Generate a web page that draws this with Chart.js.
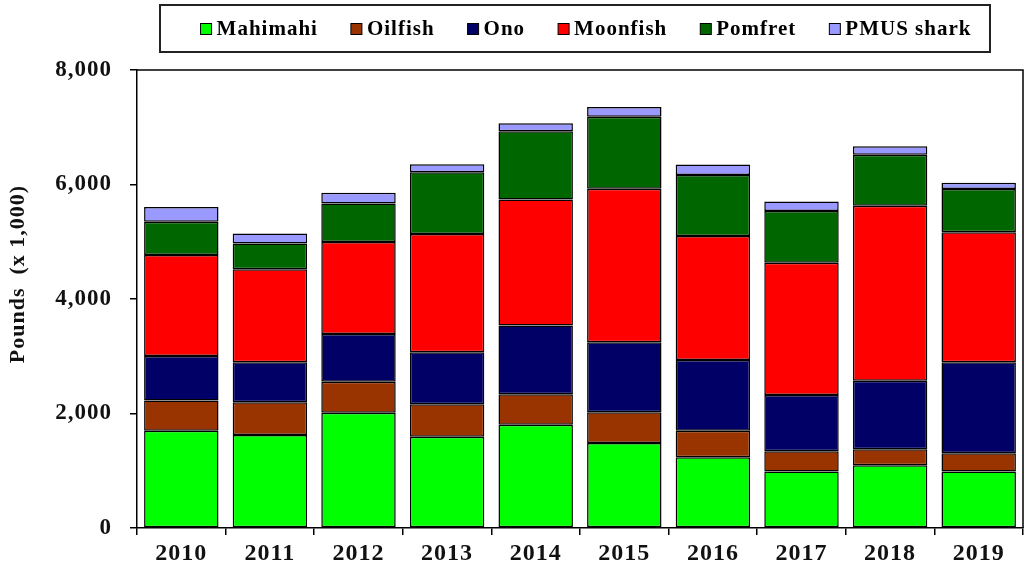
<!DOCTYPE html>
<html>
<head>
<meta charset="utf-8">
<script src="https://cdn.jsdelivr.net/npm/chart.js@4.4.1/dist/chart.umd.min.js"></script>
<style>
  html, body { margin: 0; padding: 0; background: #fff; }
  #wrap { width: 1028px; height: 574px; }
</style>
</head>
<body>
<div id="wrap"><canvas id="chart" width="1028" height="574"></canvas></div>
<script>
// data (pounds x 1,000)
const years = ['2010', '2011', '2012', '2013', '2014', '2015', '2016', '2017', '2018', '2019'];
const mahimahi = [1700, 1625, 2015, 1595, 1805, 1485, 1235, 985, 1095, 985];
const oilfish = [525, 570, 540, 565, 530, 535, 465, 355, 280, 320];
const ono = [780, 700, 835, 910, 1200, 1225, 1235, 985, 1195, 1590];
const moonfish = [1765, 1625, 1605, 2065, 2205, 2680, 2165, 2310, 3060, 2270];
const pomfret = [580, 450, 675, 1080, 1190, 1260, 1065, 900, 890, 755];
const pmusShark = [255, 175, 185, 140, 140, 170, 185, 170, 150, 110];
const yTitle = 'Pounds  (x 1,000)';

const FONT = '"Liberation Serif", "Times New Roman", serif';

const series = [
  { name: 'Mahimahi', data: mahimahi, color: '#00ff00' },
  { name: 'Oilfish', data: oilfish, color: '#993300' },
  { name: 'Ono', data: ono, color: '#000066' },
  { name: 'Moonfish', data: moonfish, color: '#ff0000' },
  { name: 'Pomfret', data: pomfret, color: '#006600' },
  { name: 'PMUS shark', data: pmusShark, color: '#9999ff' }
];

// frame on top/right of the plot, y title and boxed legend
const framePlugin = {
  id: 'frame',
  beforeDraw(chart) {
    chart.ctx.letterSpacing = '1px';
  },
  afterDraw(chart) {
    const ctx = chart.ctx;
    const a = chart.chartArea;
    ctx.save();
    ctx.strokeStyle = '#000';
    ctx.lineWidth = 1.5;
    ctx.beginPath();
    ctx.moveTo(a.left, a.top);
    ctx.lineTo(a.right, a.top);
    ctx.lineTo(a.right, a.bottom);
    ctx.stroke();

    // y axis title
    ctx.save();
    ctx.translate(18, 274);
    ctx.rotate(-Math.PI / 2);
    ctx.font = 'bold 22px ' + FONT;
    ctx.fillStyle = '#111';
    ctx.textAlign = 'center';
    ctx.textBaseline = 'middle';
    ctx.fillText(yTitle, 0, 0);
    ctx.restore();

    // legend box
    ctx.strokeStyle = '#222';
    ctx.lineWidth = 2;
    ctx.strokeRect(160, 5, 830, 47);

    ctx.font = 'bold 21px ' + FONT;
    ctx.textBaseline = 'middle';
    const box = 11, gapText = 5, gapItem = 33;
    const widths = chart.data.datasets.map(d => box + gapText + ctx.measureText(d.label).width);
    const total = widths.reduce((s, w) => s + w, 0) + gapItem * (widths.length - 1);
    let x = 586 - total / 2;
    const y = 29;
    chart.data.datasets.forEach((d, i) => {
      ctx.fillStyle = d.backgroundColor;
      ctx.fillRect(x, y - box / 2, box, box);
      ctx.strokeStyle = '#000';
      ctx.lineWidth = 1;
      ctx.strokeRect(x, y - box / 2, box, box);
      ctx.fillStyle = '#000';
      ctx.fillText(d.label, x + box + gapText, y + 1);
      x += widths[i] + gapItem;
    });
    ctx.restore();
    ctx.letterSpacing = '0px';
  }
};

new Chart(document.getElementById('chart'), {
  type: 'bar',
  data: {
    labels: years,
    datasets: series.map(s => ({
      label: s.name,
      data: s.data,
      backgroundColor: s.color,
      borderColor: '#000',
      borderWidth: 1.5,
      borderSkipped: false,
      barPercentage: 0.84,
      categoryPercentage: 1
    }))
  },
  options: {
    responsive: false,
    animation: false,
    layout: { padding: { top: 70, right: 5, left: 0, bottom: 0 } },
    plugins: {
      legend: { display: false },
      tooltip: { enabled: false }
    },
    scales: {
      x: {
        stacked: true,
        grid: { display: true, drawOnChartArea: false, offset: true, tickLength: 7, color: '#000', lineWidth: 1.5 },
        border: { color: '#000', width: 1.5 },
        ticks: { color: '#111', font: { family: FONT, size: 24, weight: 'bold' }, padding: 4 },
        afterFit(scale) { scale.height = 46; }
      },
      y: {
        stacked: true,
        min: 0,
        max: 8000,
        grid: { display: true, drawOnChartArea: false, tickLength: 7, color: '#000', lineWidth: 1.5 },
        border: { color: '#000', width: 1.5 },
        ticks: {
          stepSize: 2000,
          color: '#111',
          padding: 18,
          font: { family: FONT, size: 23, weight: 'bold' },
          callback: v => v.toLocaleString('en-US')
        },
        afterFit(scale) { scale.width = 137; }
      }
    }
  },
  plugins: [framePlugin]
});
</script>
</body>
</html>
